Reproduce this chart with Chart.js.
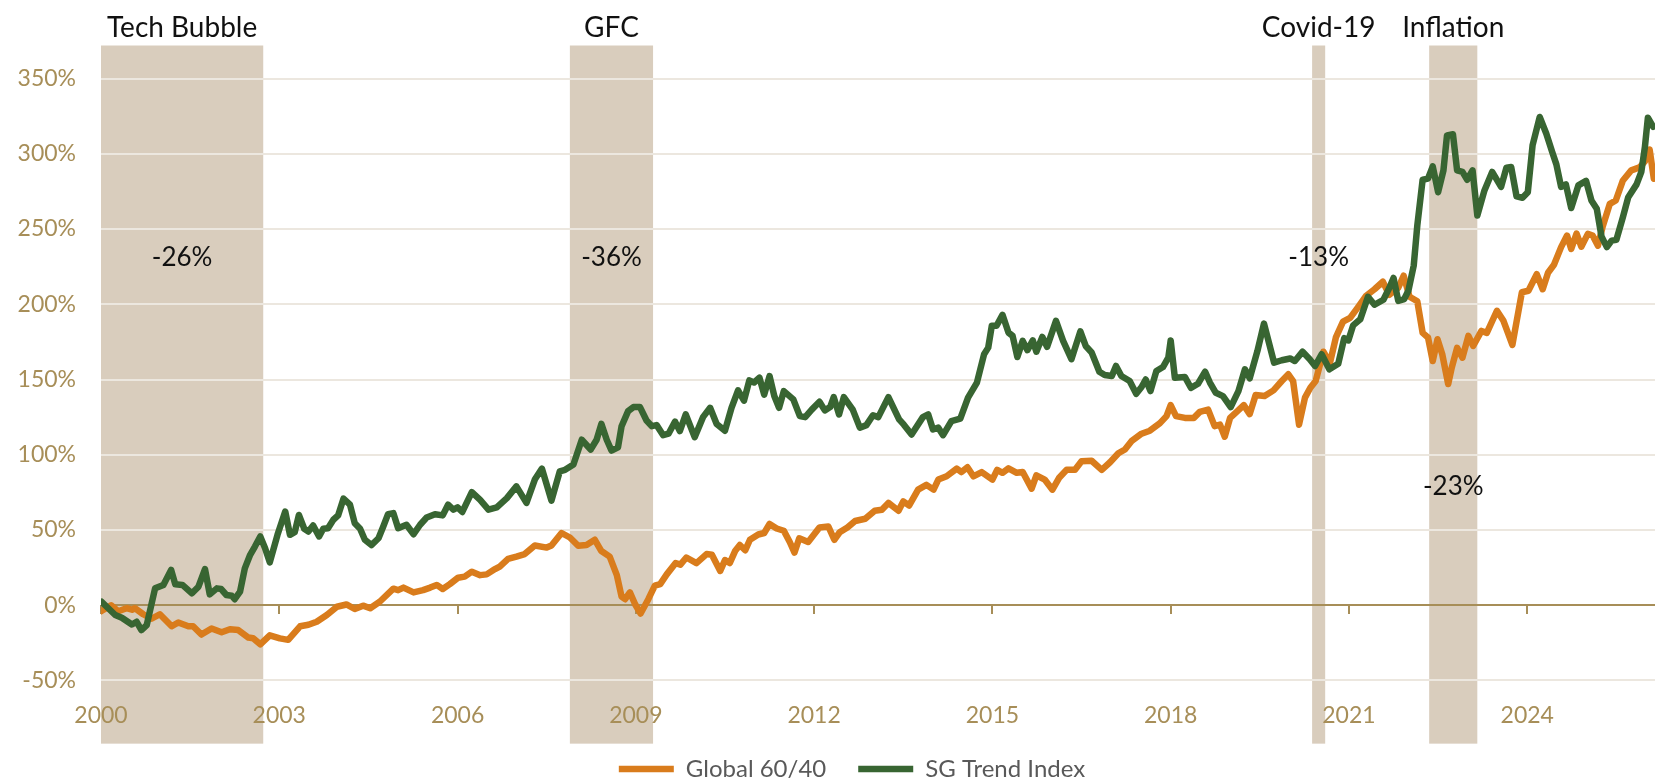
<!DOCTYPE html>
<html>
<head>
<meta charset="utf-8">
<script src="https://cdn.jsdelivr.net/npm/chart.js@4/dist/chart.umd.min.js"></script>
<style>
    html, body { margin: 0; padding: 0; background: #fff; }
    #wrap { position: relative; width: 1655px; height: 780px; }
</style>
</head>
<body>
<div id="wrap"><canvas id="chart"></canvas></div>
<script>
// Cumulative return (%), x in decimal years
const globalYears = [
    2000.0, 2000.17, 2000.29, 2000.43, 2000.52, 2000.57, 2000.71, 2000.85, 2000.99, 2001.19,
    2001.3, 2001.47, 2001.55, 2001.69, 2001.86, 2002.03, 2002.17, 2002.31, 2002.48, 2002.56,
    2002.68, 2002.84, 2003.01, 2003.15, 2003.35, 2003.49, 2003.63, 2003.8, 2003.97, 2004.13,
    2004.27, 2004.41, 2004.53, 2004.69, 2004.92, 2005.0, 2005.09, 2005.26, 2005.42, 2005.54,
    2005.65, 2005.75, 2005.87, 2006.01, 2006.12, 2006.24, 2006.38, 2006.49, 2006.63, 2006.71,
    2006.85, 2006.99, 2007.13, 2007.3, 2007.5, 2007.58, 2007.75, 2007.89, 2008.03, 2008.17,
    2008.31, 2008.42, 2008.56, 2008.68, 2008.76, 2008.82, 2008.9, 2008.99, 2009.08, 2009.21,
    2009.32, 2009.41, 2009.52, 2009.67, 2009.75, 2009.85, 2010.02, 2010.19, 2010.28, 2010.42,
    2010.5, 2010.58, 2010.67, 2010.75, 2010.84, 2010.92, 2011.06, 2011.16, 2011.25, 2011.37,
    2011.49, 2011.59, 2011.67, 2011.75, 2011.9, 2012.09, 2012.24, 2012.34, 2012.43, 2012.56,
    2012.69, 2012.86, 2013.02, 2013.14, 2013.25, 2013.42, 2013.5, 2013.6, 2013.75, 2013.89,
    2014.01, 2014.09, 2014.23, 2014.4, 2014.48, 2014.58, 2014.68, 2014.82, 2015.0, 2015.08,
    2015.17, 2015.27, 2015.41, 2015.51, 2015.66, 2015.74, 2015.88, 2016.01, 2016.12, 2016.25,
    2016.39, 2016.5, 2016.67, 2016.84, 2016.98, 2017.12, 2017.23, 2017.34, 2017.51, 2017.65,
    2017.82, 2017.93, 2018.0, 2018.09, 2018.24, 2018.39, 2018.49, 2018.63, 2018.74, 2018.83,
    2018.91, 2019.0, 2019.11, 2019.23, 2019.33, 2019.43, 2019.58, 2019.73, 2019.87, 2019.98,
    2020.06, 2020.16, 2020.26, 2020.35, 2020.44, 2020.57, 2020.68, 2020.78, 2020.9, 2021.02,
    2021.15, 2021.29, 2021.43, 2021.57, 2021.68, 2021.83, 2021.92, 2022.02, 2022.15, 2022.24,
    2022.33, 2022.41, 2022.49, 2022.57, 2022.67, 2022.73, 2022.82, 2022.91, 2023.01, 2023.09,
    2023.23, 2023.32, 2023.49, 2023.6, 2023.75, 2023.91, 2024.02, 2024.16, 2024.26, 2024.35,
    2024.45, 2024.57, 2024.67, 2024.74, 2024.83, 2024.91, 2025.02, 2025.1, 2025.19, 2025.27,
    2025.39, 2025.49, 2025.61, 2025.75, 2025.89, 2025.98, 2026.06, 2026.13
];
const globalValues = [
    -4, 0, -4, -2, -3, -2, -6, -9, -6, -14,
    -11.5, -14, -14, -19.5, -15.5, -18, -16, -16.5, -21.5, -22,
    -26, -20, -22, -23, -14, -13, -11, -6.5, -1, 0.5,
    -2.5, -0.3, -2, 2.3, 11, 10, 11.7, 8.5, 10, 11.7,
    13.5, 10.8, 14, 18.3, 19, 22.3, 20, 20.5, 24, 25.7,
    30.8, 32.3, 34, 39.7, 38.3, 39.7, 48, 45, 39.5, 40,
    43.5, 36, 32.3, 20, 5.7, 4, 8.5, 0.5, -5.5, 4,
    13, 14, 20.5, 28, 27, 31.7, 28, 34, 33.5, 22.8,
    30, 28, 36, 40, 36.5, 43.5, 47, 48, 54, 51,
    49.5, 42, 35, 44.5, 42, 51.7, 52.3, 43.5, 48.5, 51.7,
    56, 57.5, 62.8, 63.5, 68, 62.8, 69, 66.3, 76.8, 80,
    76.8, 83.5, 85.7, 90.8, 88.5, 91.7, 85.7, 88.5, 83.5, 90,
    88, 91, 88, 88.5, 77.5, 86.3, 83.5, 76.8, 84.5, 90,
    90, 95.7, 96, 90, 95, 101, 103.5, 109, 114, 116,
    121, 125.7, 133, 125.7, 124.5, 124.5, 128.5, 130, 119, 120,
    112, 124.5, 128.5, 133, 127, 139.7, 139, 142.8, 149, 153.5,
    149, 120, 138, 144.5, 149, 168.5, 161, 178, 188.5, 191,
    198, 205.7, 210, 215, 206.3, 211, 219, 205, 202, 181,
    178, 162.3, 176.8, 166.8, 147, 157.9, 171, 164.5, 179, 172.3,
    182.3, 181, 195.7, 189, 173, 208, 209, 220, 210, 221,
    226.3, 238, 245.7, 236.8, 247, 238.3, 246.8, 245.7, 239, 251.7,
    266.8, 269, 282.3, 289, 291, 295, 302.8, 283.5
];

const trendYears = [
    2000.01, 2000.24, 2000.35, 2000.52, 2000.6, 2000.68, 2000.77, 2000.91, 2001.05, 2001.18,
    2001.25, 2001.37, 2001.53, 2001.64, 2001.75, 2001.83, 2001.95, 2002.02, 2002.11, 2002.2,
    2002.25, 2002.34, 2002.42, 2002.51, 2002.59, 2002.68, 2002.76, 2002.84, 2002.97, 2003.1,
    2003.18, 2003.26, 2003.33, 2003.42, 2003.49, 2003.57, 2003.67, 2003.74, 2003.82, 2003.91,
    2003.99, 2004.08, 2004.19, 2004.27, 2004.36, 2004.44, 2004.55, 2004.67, 2004.75, 2004.83,
    2004.92, 2005.0, 2005.14, 2005.26, 2005.37, 2005.48, 2005.62, 2005.75, 2005.84, 2005.93,
    2006.0, 2006.08, 2006.24, 2006.38, 2006.52, 2006.66, 2006.83, 2006.99, 2007.16, 2007.3,
    2007.42, 2007.58, 2007.72, 2007.81, 2007.95, 2008.09, 2008.24, 2008.34, 2008.42, 2008.51,
    2008.59, 2008.7, 2008.76, 2008.87, 2008.96, 2009.07, 2009.18, 2009.27, 2009.35, 2009.46,
    2009.55, 2009.66, 2009.74, 2009.84, 2009.99, 2010.13, 2010.25, 2010.36, 2010.5, 2010.61,
    2010.72, 2010.82, 2010.91, 2010.99, 2011.08, 2011.16, 2011.25, 2011.33, 2011.41, 2011.49,
    2011.65, 2011.76, 2011.85, 2011.96, 2012.09, 2012.18, 2012.27, 2012.33, 2012.42, 2012.5,
    2012.65, 2012.77, 2012.88, 2012.99, 2013.08, 2013.25, 2013.43, 2013.51, 2013.64, 2013.83,
    2013.92, 2014.0, 2014.09, 2014.17, 2014.31, 2014.46, 2014.59, 2014.74, 2014.86, 2014.93,
    2014.99, 2015.07, 2015.17, 2015.27, 2015.34, 2015.42, 2015.51, 2015.59, 2015.68, 2015.74,
    2015.84, 2015.92, 2016.07, 2016.19, 2016.33, 2016.48, 2016.57, 2016.67, 2016.8, 2016.89,
    2017.01, 2017.08, 2017.17, 2017.31, 2017.42, 2017.51, 2017.58, 2017.66, 2017.76, 2017.87,
    2017.96, 2018.0, 2018.07, 2018.24, 2018.34, 2018.46, 2018.58, 2018.66, 2018.76, 2018.88,
    2019.01, 2019.14, 2019.25, 2019.33, 2019.46, 2019.57, 2019.74, 2019.87, 2020.01, 2020.09,
    2020.22, 2020.34, 2020.43, 2020.54, 2020.67, 2020.82, 2020.92, 2020.99, 2021.07, 2021.19,
    2021.32, 2021.43, 2021.58, 2021.68, 2021.75, 2021.83, 2021.93, 2022.0, 2022.09, 2022.15,
    2022.24, 2022.33, 2022.41, 2022.5, 2022.59, 2022.65, 2022.75, 2022.82, 2022.91, 2022.99,
    2023.08, 2023.16, 2023.28, 2023.41, 2023.56, 2023.65, 2023.73, 2023.82, 2023.92, 2024.01,
    2024.09, 2024.21, 2024.32, 2024.42, 2024.49, 2024.57, 2024.65, 2024.74, 2024.86, 2024.99,
    2025.08, 2025.17, 2025.25, 2025.34, 2025.42, 2025.5, 2025.61, 2025.7, 2025.84, 2025.92,
    2025.98, 2026.03, 2026.12
];
const trendValues = [
    2.3, -6.5, -8.3, -12.8, -11, -16.5, -13.2, 11.2, 13.5, 23.5,
    13.9, 13.5, 7.9, 12.3, 24, 7.2, 11.2, 10.8, 6.8, 6.3,
    4, 9, 24.5, 33.5, 39, 45.7, 38, 28.5, 46.8, 62.3,
    46.8, 48.5, 60, 50.8, 49, 53, 45.7, 50.8, 51.2, 56.8,
    59.7, 70.8, 66.8, 54.5, 50.8, 43.5, 40, 44.5, 52.3, 60.5,
    61.2, 51.2, 53.5, 47.2, 53.5, 58.3, 60.5, 59.7, 66.8, 63.5,
    65, 62, 75.2, 70, 63.5, 65, 71.2, 79, 68, 83.5,
    90.8, 69.5, 89, 90, 93.5, 110, 103.5, 110, 120.5, 110,
    102.8, 105, 119, 129, 131.7, 131.7, 122.8, 119, 119.7, 113,
    114, 122, 115.7, 126.8, 111.7, 125, 131.2, 120.5, 116, 131.2,
    142.8, 136, 149.4, 148, 151.2, 140, 152.3, 139, 131.2, 142.3,
    136.8, 125.7, 125, 130, 135.2, 129.5, 131.7, 138.3, 126.8, 138.3,
    130, 118, 119.7, 126.3, 125, 138.3, 123.5, 120, 113.5, 125,
    126.8, 116.8, 118, 113, 122.3, 124, 138, 148, 166.8, 171.2,
    185.7, 185.7, 193, 181.2, 179, 165, 175.7, 169.5, 176, 168.5,
    178.3, 171.7, 189, 175.7, 163.5, 182, 172.3, 168, 155.2, 153,
    152.3, 159, 152.3, 149, 140.5, 145, 150, 142.3, 155.7, 158.3,
    164.5, 176, 151.2, 151.7, 144.5, 147.2, 155.2, 148, 141.2, 139,
    131.7, 142.3, 156.8, 150.8, 169, 187.2, 161.2, 162.8, 164, 162.3,
    168.5, 163.5, 159, 166.8, 156.8, 160.5, 177.5, 176, 186, 190,
    205, 199.7, 203, 211, 217.5, 202.3, 203.5, 209, 225.7, 252.3,
    282.8, 283.5, 291.7, 274.5, 289, 312.3, 313, 289, 288, 282.8,
    289, 259, 275.7, 288, 278, 290.8, 291.2, 271.7, 270.8, 274.5,
    305.7, 324.5, 313.5, 301.2, 293, 278, 279.7, 264, 279, 282,
    269, 263.5, 245, 238, 242.3, 242.8, 258, 271.2, 279.7, 288,
    304.5, 324, 318
];

const yearTicks = [2000, 2003, 2006, 2009, 2012, 2015, 2018, 2021, 2024];
const percentTicks = [-50, 0, 50, 100, 150, 200, 250, 300, 350];

// Stress episodes shaded on the chart
const episodeNames = ['Tech Bubble', 'GFC', 'Covid-19', 'Inflation'];
const episodeStart = [2000.0, 2007.89, 2020.38, 2022.35];
const episodeEnd = [2002.73, 2009.29, 2020.6, 2023.16];
const episodeDrawdown = ['-26%', '-36%', '-13%', '-23%'];
const drawdownLevel = [231, 231, 231, 79];

const FONT = 'Lato';
const ORANGE = '#d97c1c';
const GREEN = '#386532';
const BAND = '#d9cdbd';
const GRID = '#ece7df';
const GOLD = '#a78e58';

function toPoints(xs, ys) {
    return xs.map((x, i) => ({ x: x, y: ys[i] }));
}

// Shaded episodes, zero axis tick marks and episode labels
const episodePlugin = {
    id: 'episodes',
    afterLayout(chart) {
        // nudge the legend to the right like the original
        if (chart.legend) {
            chart.legend.left += 49;
        }
    },
    beforeDraw(chart) {
        const { ctx, chartArea } = chart;
        const x = chart.scales.x, y = chart.scales.y;
        const bottom = y.getPixelForValue(-92);
        ctx.save();
        ctx.fillStyle = BAND;
        episodeStart.forEach((s, i) => {
            const x0 = x.getPixelForValue(s);
            const x1 = x.getPixelForValue(episodeEnd[i]);
            ctx.fillRect(x0, chartArea.top, x1 - x0, bottom - chartArea.top);
        });
        ctx.restore();
    },
    beforeDatasetsDraw(chart) {
        const { ctx } = chart;
        const x = chart.scales.x, y = chart.scales.y;
        const zero = Math.round(y.getPixelForValue(0));
        ctx.save();
        ctx.strokeStyle = GOLD;
        ctx.lineWidth = 2;
        yearTicks.forEach(v => {
            const px = Math.round(x.getPixelForValue(v));
            ctx.beginPath();
            ctx.moveTo(px, zero);
            ctx.lineTo(px, zero + 9);
            ctx.stroke();
        });
        ctx.restore();
    },
    afterDatasetsDraw(chart) {
        const { ctx, chartArea } = chart;
        const x = chart.scales.x, y = chart.scales.y;
        ctx.save();
        ctx.fillStyle = '#111';
        ctx.textAlign = 'center';
        episodeNames.forEach((name, i) => {
            const cx = (x.getPixelForValue(episodeStart[i]) + x.getPixelForValue(episodeEnd[i])) / 2;
            ctx.font = '28px ' + FONT;
            ctx.textBaseline = 'alphabetic';
            ctx.fillText(name, cx, chartArea.top - 9);
            ctx.font = '26px ' + FONT;
            ctx.textBaseline = 'middle';
            ctx.fillText(episodeDrawdown[i], cx, y.getPixelForValue(drawdownLevel[i]));
        });
        ctx.restore();
    }
};

const tickFont = { family: FONT, size: 23 };

new Chart(document.getElementById('chart'), {
    type: 'line',
    data: {
        datasets: [
            {
                label: 'Global 60/40',
                data: toPoints(globalYears, globalValues),
                borderColor: ORANGE,
                backgroundColor: ORANGE,
                borderWidth: 6.5,
                borderCapStyle: 'round',
                borderJoinStyle: 'round',
                pointRadius: 0,
                order: 1
            },
            {
                label: 'SG Trend Index',
                data: toPoints(trendYears, trendValues),
                borderColor: GREEN,
                backgroundColor: GREEN,
                borderWidth: 6.5,
                borderCapStyle: 'round',
                borderJoinStyle: 'round',
                pointRadius: 0,
                order: 0
            }
        ]
    },
    options: {
        responsive: true,
        maintainAspectRatio: false,
        animation: false,
        layout: { padding: { top: 45.5, left: 0, right: 0, bottom: -11 } },
        scales: {
            x: {
                type: 'linear',
                min: 2000,
                max: 2026.15,
                afterBuildTicks: s => { s.ticks = yearTicks.map(v => ({ value: v })); },
                grid: { display: false, drawTicks: false },
                border: { display: false },
                ticks: {
                    color: GOLD,
                    font: tickFont,
                    padding: 6,
                    autoSkip: false,
                    maxRotation: 0,
                    callback: v => String(v)
                },
                afterFit: s => { s.height = 29.5; }
            },
            y: {
                min: -60,
                max: 372,
                afterBuildTicks: s => { s.ticks = percentTicks.map(v => ({ value: v })); },
                grid: {
                    color: c => (c.tick && c.tick.value === 0) ? GOLD : GRID,
                    lineWidth: 2,
                    drawTicks: false
                },
                border: { display: false },
                ticks: {
                    color: GOLD,
                    font: tickFont,
                    padding: 25,
                    callback: v => v + '%'
                },
                afterFit: s => { s.width = 101; }
            }
        },
        plugins: {
            legend: {
                position: 'bottom',
                labels: {
                    usePointStyle: true,
                    pointStyle: 'line',
                    pointStyleWidth: 55,
                    color: '#595959',
                    font: { family: FONT, size: 24 },
                    padding: 32,
                    sort: (a, b) => a.datasetIndex - b.datasetIndex
                }
            },
            tooltip: { enabled: false }
        }
    },
    plugins: [episodePlugin]
});
</script>
</body>
</html>
